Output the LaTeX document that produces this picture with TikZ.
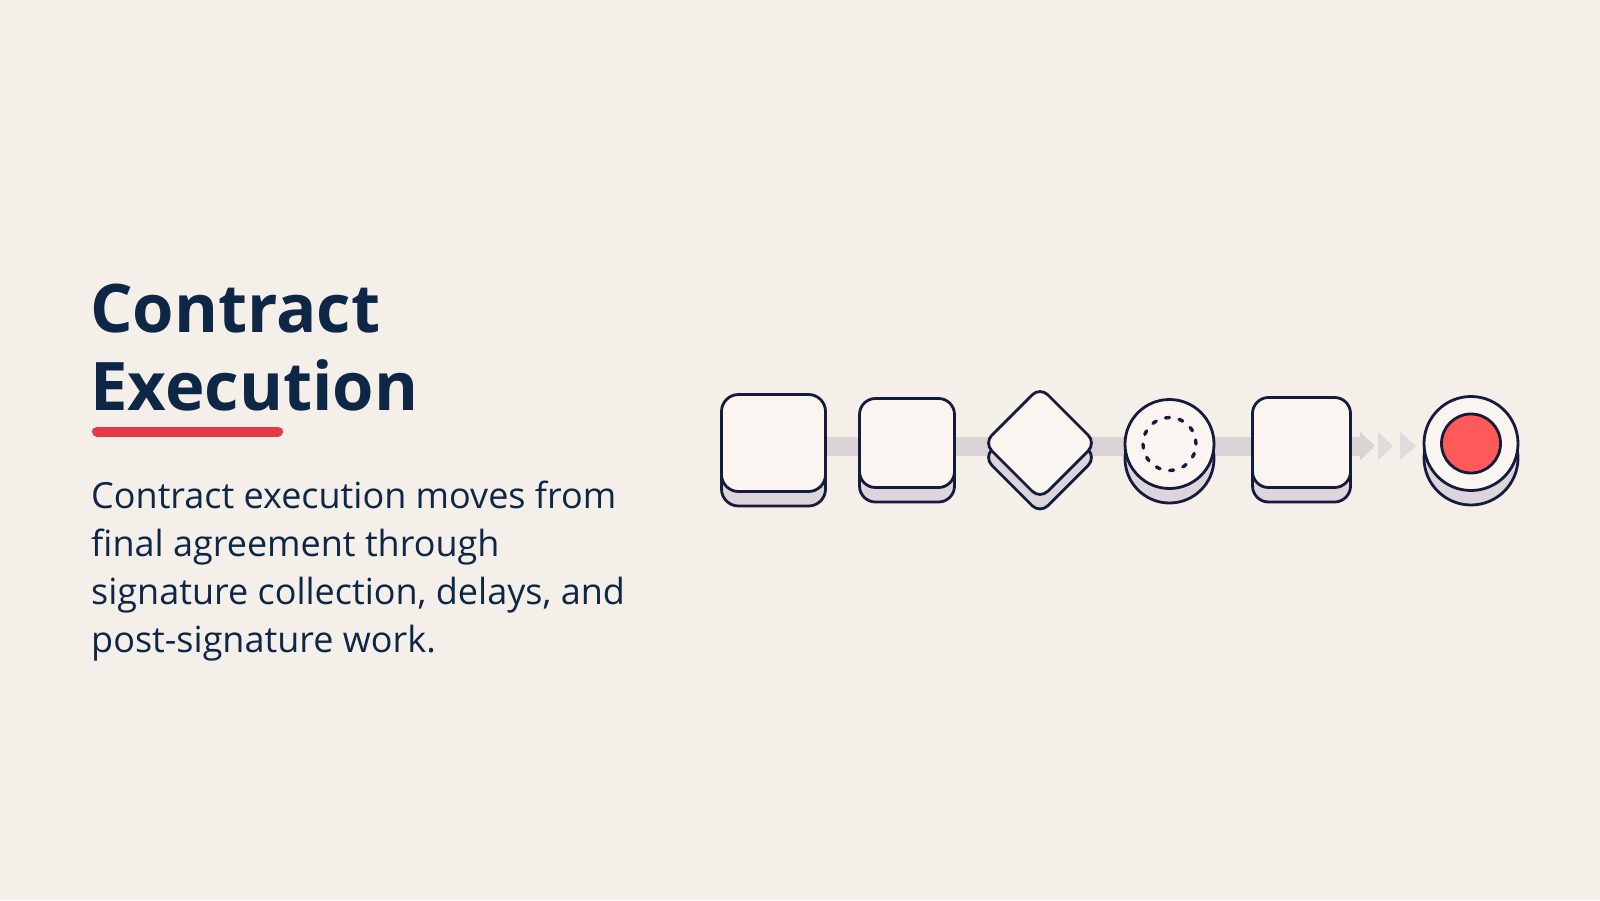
\documentclass[tikz,border=0pt]{standalone}
\usepackage{fontspec}
\setmainfont{Open Sans}
\usetikzlibrary{shapes.geometric,arrows.meta}

\definecolor{papier}{HTML}{F4F0E9}
\definecolor{tinte}{HTML}{141B3B}
\definecolor{titel}{HTML}{0F2747}
\definecolor{flaeche}{HTML}{FAF5F1}
\definecolor{sockel}{HTML}{DCD5DC}
\definecolor{balken}{HTML}{DAD4D7}
\definecolor{pfeilgrau}{HTML}{DFDADC}
\definecolor{rot}{HTML}{E63946}
\definecolor{punkt}{HTML}{FF5A5A}

\pgfdeclarelayer{bg}
\pgfdeclarelayer{back}
\pgfsetlayers{bg,back,main}

\begin{document}
\begin{tikzpicture}
		[
		x=1pt, y=-1pt, >={Triangle[length=15pt,width=28pt]},
		%Kachel mit Sockel darunter
		kachel/.style={draw=tinte, line width=2.8pt, fill=flaeche, inner sep=0pt, outer sep=0pt,
			preaction={draw=tinte, fill=sockel, transform canvas={yshift=-14.5pt}}},
		titelschrift/.style={font=\fontsize{67}{78}\selectfont\bfseries, text=titel, inner sep=0pt},
		textschrift/.style={font=\fontsize{36}{48}\selectfont, text=titel, inner sep=0pt}
		]
		
		%Hintergrund
		\useasboundingbox (0,0) rectangle (1600,900);
		\begin{pgfonlayer}{bg}
		\fill[papier] (0,0) rectangle (1600,900);
		\end{pgfonlayer}
		
		%Titel
		\node[titelschrift, anchor=base west] (titel1) at (90,332) {Contract};
		\node[titelschrift, anchor=base west] (titel2) at (90,410) {Execution};
		
		%Unterstrich
		\draw[rot, line width=10pt, line cap=round] (97,431.5) -- (278,431.5);
		
		%Beschreibung
		\node[textschrift, anchor=base west] (zeile1) at (91,508) {Contract execution moves from};
		\node[textschrift, anchor=base west] (zeile2) at (91,556) {final agreement through};
		\node[textschrift, anchor=base west] (zeile3) at (91,604) {signature collection, delays, and};
		\node[textschrift, anchor=base west] (zeile4) at (91,652) {post-signature work.};
		
		%Kacheln
		\node[kachel, rounded corners=17pt, minimum width=104pt, minimum height=97pt] (b1) at (773.5,443) {};
		\node[kachel, rounded corners=16pt, minimum width=95pt, minimum height=89pt] (b2) at (907,443) {};
		\node[kachel, diamond, rounded corners=11pt, minimum size=112pt] (d3) at (1040,443) {};
		\node[kachel, circle, minimum size=89pt] (c4) at (1169.5,444) {};
		\node[draw=tinte, circle, line width=3.4pt, dash pattern=on 4pt off 9.87pt, line cap=round,
			minimum size=53pt, inner sep=0pt] (ring) at (c4) {};
		\node[kachel, rounded corners=16pt, minimum width=98pt, minimum height=90pt] (b5) at (1301.5,442.5) {};
		\node[kachel, circle, minimum size=94pt] (ende) at (1471,443.5) {};
		\node[draw=tinte, fill=punkt, circle, line width=2.8pt, minimum size=59pt, inner sep=0pt] (kern) at (ende) {};
		
		%Balken mit Pfeil
		\coordinate (spitze) at (1375,446);
		\begin{pgfonlayer}{back}
		\draw[balken, line width=19pt, ->] (b1.center |- spitze) -- (spitze);
		\fill[pfeilgrau] (spitze) ++(3,-14) -- ++(15,14) -- ++(-15,14) -- cycle;
		\fill[pfeilgrau] (spitze) ++(25,-14) -- ++(16,14) -- ++(-16,14) -- cycle;
		\end{pgfonlayer}
		
	\end{tikzpicture}
\end{document}
